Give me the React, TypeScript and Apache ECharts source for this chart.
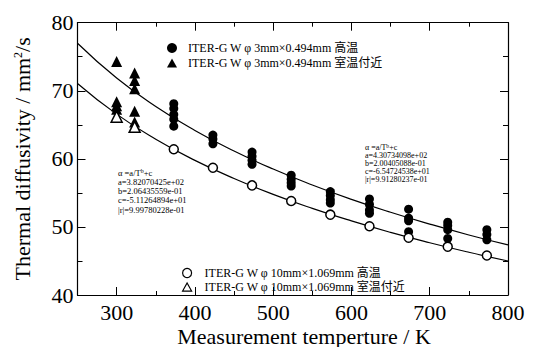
import React, { useEffect, useRef } from "react";
import * as echarts from "echarts";

const seriesNames = [
  "ITER-G W φ 3mm×0.494mm 高温",
  "ITER-G W φ 3mm×0.494mm 室温付近",
  "ITER-G W φ 10mm×1.069mm 高温",
  "ITER-G W φ 10mm×1.069mm 室温付近",
];

// [temperature K, diffusivity mm2/s]
const small_high: [number, number][] = [
  [373, 68.1], [373, 67.4], [373, 66.5], [373, 65.8], [373, 64.8],
  [423, 63.5], [423, 62.9], [423, 62.2],
  [473, 61.0], [473, 60.4], [473, 59.8], [473, 59.2],
  [523, 57.6], [523, 57.0], [523, 56.5], [523, 56.0],
  [573, 55.2], [573, 54.6], [573, 54.0], [573, 53.5],
  [623, 54.1], [623, 53.3], [623, 52.5], [623, 52.0],
  [673, 52.6], [673, 51.3], [673, 50.9], [673, 49.3],
  [723, 50.7], [723, 50.2], [723, 49.6], [723, 48.3],
  [773, 49.6], [773, 48.9], [773, 48.1],
];
const small_room: [number, number][] = [
  [300, 74.3], [300, 68.4], [300, 67.8], [300, 67.3],
  [323, 72.6], [323, 71.5], [323, 70.3], [323, 67.0], [323, 65.4],
];
const large_high: [number, number][] = [
  [373, 61.4], [423, 58.7], [473, 56.1], [523, 53.8], [573, 51.8],
  [623, 50.1], [673, 48.4], [723, 47.1], [773, 45.8],
];
const large_room: [number, number][] = [
  [300, 66.2], [323, 64.7],
];

// fitted curves (read at 50 K steps)
const fitT = [250, 300, 350, 400, 450, 500, 550, 600, 650, 700, 750, 800];
const fitUpper = [76.98, 71.87, 67.69, 64.17, 61.15, 58.5, 56.16, 54.05, 52.15, 50.42, 48.82, 47.36];
const fitLower = [71.08, 66.57, 62.88, 59.78, 57.12, 54.79, 52.73, 50.88, 49.2, 47.68, 46.28, 44.99];

const xMajor = [300, 400, 500, 600, 700, 800];

const annotLeft = ["a=3.82070425e+02", "b=2.06435559e-01", "c=-5.11264894e+01", "|r|=9.99780228e-01"];
const annotRight = ["a=4.30734098e+02", "b=2.00405088e-01", "c=-6.54724538e+01", "|r|=9.91280237e-01"];

const SERIF = "'Liberation Serif', 'Times New Roman', serif";
const LEG_FONT = "'Liberation Serif', 'Noto Sans CJK JP', serif";
const TRI_ICON = "path://M5,0L10,9L0,9Z";

export default function App() {
  const ref = useRef<HTMLDivElement>(null);
  useEffect(() => {
    if (!ref.current) return;
    const chart = echarts.init(ref.current, null, { renderer: "svg" });
    const grid = { left: 77.5, right: 28, top: 22.7, bottom: 52 };
    const axisLineStyle = { show: true, lineStyle: { color: "#000", width: 1.2 } };
    const baseX = { type: "value", min: 250, max: 800, splitLine: { show: false } };
    const baseY = { type: "value", min: 40, max: 80, splitLine: { show: false } };
    const fitLineData = (ys: number[]) => fitT.map((t, i) => [t, ys[i]]);

    const annot = (x: number, y: number, lines: string[], fs: number, lh: number) => ({
      type: "group",
      x,
      y,
      children: [
        {
          type: "text",
          x: 0,
          y: 0,
          style: {
            text: "{a|α =a/T}{s|b}{a|+c}",
            fill: "#000",
            font: `${fs}px ${SERIF}`,
            rich: {
              a: { fontSize: fs, fontFamily: SERIF, lineHeight: lh, fill: "#000", color: "#000" },
              s: { fontSize: fs * 0.7, fontFamily: SERIF, verticalAlign: "top", lineHeight: lh, fill: "#000", color: "#000", padding: [0, 0, 4, 0] },
            },
          },
        },
        ...lines.map((l, i) => ({
          type: "text",
          x: 0,
          y: lh * (i + 1),
          style: { text: l, fill: "#000", font: `${fs}px ${SERIF}` },
        })),
      ],
    });

    const tickStyle = { color: "#000", width: 1 };

    chart.setOption({
      animation: false,
      grid,
      xAxis: [
        {
          ...baseX,
          position: "bottom",
          interval: 50,
          axisLine: axisLineStyle,
          axisTick: { show: true, inside: true, length: 4, lineStyle: tickStyle },
          axisLabel: {
            customValues: xMajor,
            color: "#000",
            fontFamily: SERIF,
            fontSize: 22,
            margin: 6,
          },
        },
        {
          ...baseX,
          position: "bottom",
          axisLine: { show: false },
          axisTick: { show: true, inside: true, length: 8, customValues: xMajor, lineStyle: tickStyle },
          axisLabel: { show: false },
        },
        {
          ...baseX,
          position: "top",
          interval: 50,
          axisLine: axisLineStyle,
          axisTick: { show: true, inside: true, length: 4, lineStyle: tickStyle },
          axisLabel: { show: false },
        },
        {
          ...baseX,
          position: "top",
          axisLine: { show: false },
          axisTick: { show: true, inside: true, length: 8, customValues: xMajor, lineStyle: tickStyle },
          axisLabel: { show: false },
        },
      ],
      yAxis: [
        {
          ...baseY,
          position: "left",
          interval: 10,
          name: "Thermal diffusivity / mm{s|2}/s",
          nameLocation: "middle",
          nameGap: 44,
          nameTextStyle: {
            color: "#000",
            fontFamily: SERIF,
            fontSize: 22,
            rich: { s: { fontSize: 12, fontFamily: SERIF, verticalAlign: "top", color: "#000", padding: [0, 0, 8, 0] } },
          },
          axisLine: axisLineStyle,
          axisTick: { show: true, inside: true, length: 8, lineStyle: tickStyle },
          axisLabel: { color: "#000", fontFamily: SERIF, fontSize: 22, margin: 4 },
        },
        {
          ...baseY,
          position: "left",
          interval: 5,
          axisLine: { show: false },
          axisTick: { show: true, inside: true, length: 5, lineStyle: tickStyle },
          axisLabel: { show: false },
        },
        {
          ...baseY,
          position: "right",
          interval: 10,
          axisLine: axisLineStyle,
          axisTick: { show: true, inside: true, length: 8, lineStyle: tickStyle },
          axisLabel: { show: false },
        },
        {
          ...baseY,
          position: "right",
          interval: 5,
          axisLine: { show: false },
          axisTick: { show: true, inside: true, length: 5, lineStyle: tickStyle },
          axisLabel: { show: false },
        },
      ],
      legend: [
        {
          data: [
            { name: seriesNames[0], icon: "circle", itemStyle: { color: "#000", borderWidth: 0 } },
            { name: seriesNames[1], icon: TRI_ICON, itemStyle: { color: "#000", borderWidth: 0 } },
          ],
          orient: "vertical",
          left: 167,
          top: 42,
          itemWidth: 10,
          itemHeight: 10,
          itemGap: 3,
          padding: 0,
          textStyle: { color: "#000", fontFamily: LEG_FONT, fontSize: 12, lineHeight: 12, padding: [0, 0, 0, 6] },
        },
        {
          data: [
            { name: seriesNames[2], icon: "circle", itemStyle: { color: "#fff", borderColor: "#000", borderWidth: 1.2 } },
            { name: seriesNames[3], icon: TRI_ICON, itemStyle: { color: "#fff", borderColor: "#000", borderWidth: 1.2 } },
          ],
          orient: "vertical",
          left: 182,
          top: 267,
          itemWidth: 9,
          itemHeight: 9,
          itemGap: 2,
          padding: 0,
          textStyle: { color: "#000", fontFamily: LEG_FONT, fontSize: 12, lineHeight: 12, padding: [0, 0, 0, 8] },
        },
      ],
      graphic: [
        {
          type: "text",
          x: 304,
          y: 325,
          style: {
            text: "Measurement temperture / K",
            fill: "#000",
            font: `22px ${SERIF}`,
            align: "center",
          },
        },
        annot(118, 168, annotLeft, 8.5, 9.3),
        annot(365, 143, annotRight, 8, 8.2),
      ],
      series: [
        {
          type: "line",
          data: fitLineData(fitUpper),
          smooth: true,
          showSymbol: false,
          symbol: "none",
          lineStyle: { color: "#000", width: 1.2 },
          silent: true,
          z: 1,
        },
        {
          type: "line",
          data: fitLineData(fitLower),
          smooth: true,
          showSymbol: false,
          symbol: "none",
          lineStyle: { color: "#000", width: 1.2 },
          silent: true,
          z: 1,
        },
        {
          name: seriesNames[0],
          type: "scatter",
          data: small_high,
          symbol: "circle",
          symbolSize: 9,
          itemStyle: { color: "#000", opacity: 1 },
          z: 3,
        },
        {
          name: seriesNames[1],
          type: "scatter",
          data: small_room,
          symbol: "triangle",
          symbolSize: 11,
          itemStyle: { color: "#000", opacity: 1 },
          z: 3,
        },
        {
          name: seriesNames[2],
          type: "scatter",
          data: large_high,
          symbol: "circle",
          symbolSize: 9,
          itemStyle: { color: "#fff", borderColor: "#000", borderWidth: 1.5, opacity: 1 },
          z: 4,
        },
        {
          name: seriesNames[3],
          type: "scatter",
          data: large_room,
          symbol: "triangle",
          symbolSize: 11,
          itemStyle: { color: "#fff", borderColor: "#000", borderWidth: 1.5, opacity: 1 },
          z: 4,
        },
      ],
    });
    return () => chart.dispose();
  }, []);
  return (
    <div
      ref={ref}
      style={{ position: "fixed", left: 0, top: 0, width: 536, height: 347, background: "#fff" }}
    />
  );
}
